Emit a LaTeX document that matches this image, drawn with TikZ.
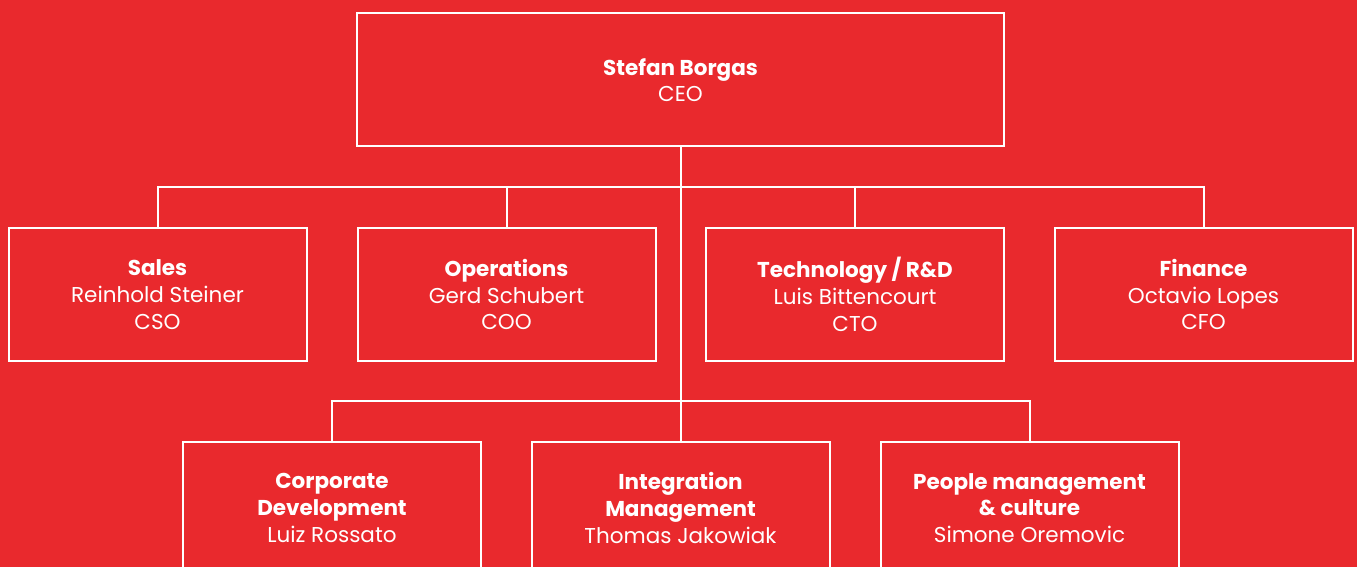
\documentclass[tikz,border=0pt]{standalone}
\usepackage{fontspec}
\setmainfont{Poppins}
\definecolor{bgred}{HTML}{E9292D}
\begin{document}
\begin{tikzpicture}[x=1pt,y=-1pt,
  box/.style={draw=white, line width=2pt, minimum width=298pt, minimum height=133pt,
    align=center, text=white, inner sep=0pt, font=\fontsize{21.5}{26.7}\selectfont},
  conn/.style={draw=white, line width=2pt}]
\fill[bgred] (0,0) rectangle (1357,567);
\useasboundingbox (0,0) rectangle (1357,567);
\clip (0,0) rectangle (1357,567);
\node[box, minimum width=647pt] (ceo) at (680.5,80) {\textbf{Stefan Borgas}\\CEO};
\node[box] (sales) at (157.5,294.5) {\textbf{Sales}\\Reinhold Steiner\\CSO};
\node[box] (ops) at (506.5,294.5) {\textbf{Operations}\\Gerd Schubert\\COO};
\node[box] (tech) at (855,294.5) {\textbf{Technology / R\&D}\\Luis Bittencourt\\CTO};
\node[box] (fin) at (1203.5,294.5) {\textbf{Finance}\\Octavio Lopes\\CFO};
\node[box] (corp) at (332,508) {\textbf{Corporate}\\\textbf{Development}\\Luiz Rossato};
\node[box] (integ) at (680.5,508) {\textbf{Integration}\\\textbf{Management}\\Thomas Jakowiak};
\node[box] (people) at (1029.5,508) {\textbf{People management}\\\textbf{\& culture}\\Simone Oremovic};
\coordinate (j1) at (680.5,187);
\coordinate (j2) at (680.5,401);
\draw[conn] (ceo.south) -- (j2);
\draw[conn] (j1) -| (sales.north);
\draw[conn] (j1) -| (ops.north);
\draw[conn] (j1) -| (tech.north);
\draw[conn] (j1) -| (fin.north);
\draw[conn] (j2) -| (corp.north);
\draw[conn] (j2) -- (integ.north);
\draw[conn] (j2) -| (people.north);
\end{tikzpicture}
\end{document}
